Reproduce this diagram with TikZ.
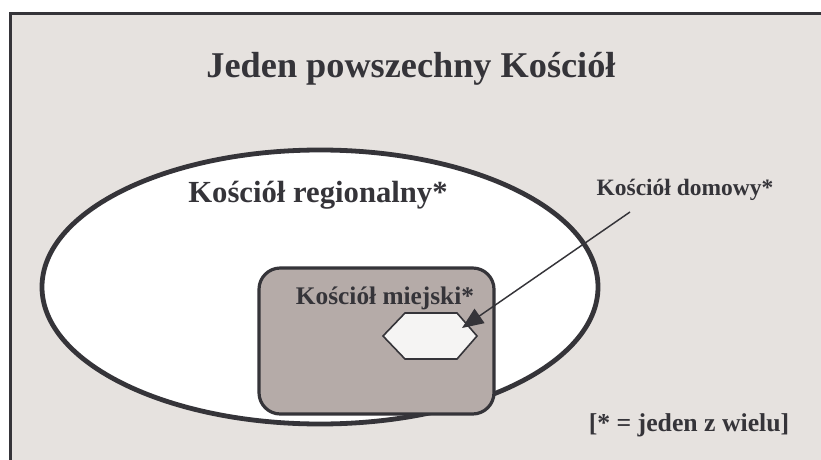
\documentclass[tikz,border=0pt]{standalone}
\usepackage{fontspec}
\setmainfont{Liberation Serif}
\usetikzlibrary{arrows.meta}
\definecolor{tlo}{HTML}{E6E2DF}
\definecolor{kreska}{HTML}{353439}
\definecolor{miasto}{HTML}{B5ABA8}
\definecolor{dom}{HTML}{F5F4F3}
\tikzset{
  napis/.style={text=kreska, font=\bfseries, inner sep=0pt},
  obrys/.style={draw=kreska, line width=#1},
}

\begin{document}
\begin{tikzpicture}[x=0.75pt, y=-0.75pt]
	\useasboundingbox (0,0) rectangle (821,460);
	\clip (0,0) rectangle (821,460);
	\fill[white] (0,0) rectangle (821,460);
	% tlo i ramka
	\draw[obrys=2.4pt, fill=tlo] (10.5,13.5) rectangle (840,480);
	% kosciol regionalny
	\draw[obrys=3.6pt, fill=white] (320,287) ellipse (278 and 137);
	% kosciol miejski
	\draw[obrys=2.4pt, fill=miasto, rounded corners=16pt] (259,268) rectangle (494,414);
	% kosciol domowy
	\draw[obrys=1.2pt, fill=dom] (383,336) -- (405,313) -- (457,313) -- (477,336) -- (457,359) -- (405,359) -- cycle;
	\node[napis, font=\bfseries\fontsize{27.2}{32}\selectfont] (tytul) at (411,69) {Jeden powszechny Kościół};
	\node[napis, font=\bfseries\fontsize{23}{27}\selectfont] (regionalny) at (318,195) {Kościół regionalny*};
	\node[napis, font=\bfseries\fontsize{17.6}{21}\selectfont] (domowy) at (685,190) {Kościół domowy*};
	\node[napis, font=\bfseries\fontsize{19}{23}\selectfont] (miejski) at (385,298) {Kościół miejski*};
	\node[napis, font=\bfseries\fontsize{19.3}{23}\selectfont] (przypis) at (689,425) {[* = jeden z wielu]};
	\coordinate (poczatek) at (630,212);
	\coordinate (grot) at (462,328);
	\draw[kreska, line width=1.1pt, -{Triangle[length=16pt, width=13pt]}] (poczatek) -- (grot);
\end{tikzpicture}
\end{document}
